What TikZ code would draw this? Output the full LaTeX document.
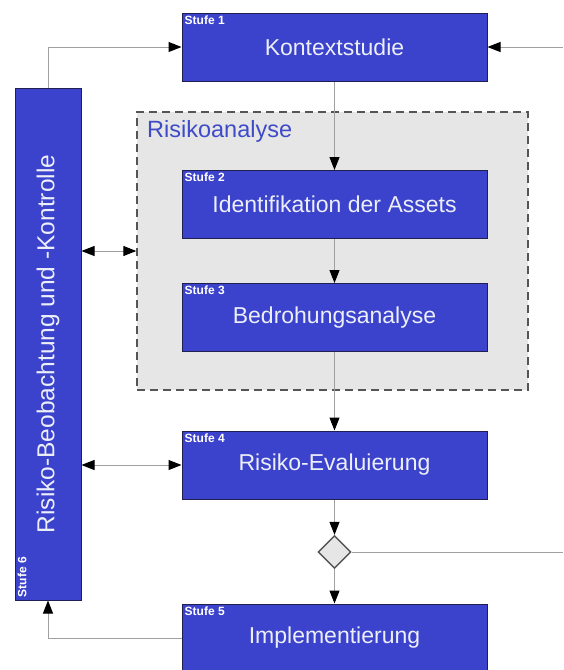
\documentclass[tikz,border=0pt]{standalone}
\usepackage{fontspec}
\setmainfont{Liberation Sans}
\usetikzlibrary{arrows.meta,shapes.geometric,calc}
\definecolor{boxblue}{RGB}{59,66,204}
\definecolor{boxborder}{RGB}{32,32,80}
\definecolor{boxtext}{RGB}{236,238,248}
\definecolor{regionfill}{RGB}{230,230,230}
\definecolor{regionline}{RGB}{85,85,85}
\definecolor{linegray}{RGB}{160,160,160}
\definecolor{titleblue}{RGB}{62,74,200}
\begin{document}
\begin{tikzpicture}[x=1pt,y=-1pt,
  stage/.style={draw=boxborder, line width=1pt, fill=boxblue, text=boxtext,
    minimum width=305pt, minimum height=68pt, inner sep=0pt,
    font=\fontsize{23}{26}\selectfont},
  sidebox/.style={draw=boxborder, line width=1pt, fill=boxblue,
    minimum width=66pt, minimum height=512pt, inner sep=0pt},
  sidetext/.style={text=boxtext, rotate=90, inner sep=0pt,
    font=\fontsize{24.5}{28}\selectfont},
  stufe/.style={text=white, inner sep=0pt,
    font=\bfseries\fontsize{12}{13}\selectfont},
  region/.style={draw=regionline, fill=regionfill, line width=1.4pt,
    dash pattern=on 8pt off 5pt, minimum width=391pt, minimum height=278pt, inner sep=0pt},
  regiontitle/.style={text=titleblue, inner sep=0pt, font=\fontsize{23.5}{26}\selectfont},
  dia/.style={diamond, aspect=1, draw=regionline, fill=regionfill, line width=1.4pt,
    minimum width=33pt, minimum height=33pt, inner sep=0pt},
  conn/.style={draw=linegray, line width=1pt},
  tip/.style={},
  arr/.style={conn, -{Triangle[length=13pt,width=10pt,color=black]}},
  darr/.style={conn, {Triangle[length=13pt,width=10pt,color=black]}-{Triangle[length=13pt,width=10pt,color=black]}}
]
\clip (0,0) rectangle (563,670);
\fill[white] (0,0) rectangle (563,670);

% region
\node[region] (ra) at (332.5,251) {};
\node[regiontitle, anchor=west] (ratitle) at (147,131) {Risikoanalyse};

% stages
\node[stage] (s1) at (334.5,47) {Kontextstudie};
\node[stage] (s2) at (334.5,204.5) {Identifikation der Assets};
\node[stage] (s3) at (334.5,317.5) {Bedrohungsanalyse};
\node[stage] (s4) at (334.5,465) {Risiko-Evaluierung};
\node[stage] (s5) at (334.5,638) {Implementierung};
\node[sidebox] (s6) at (48,344) {};
\node[sidetext] (s6t) at (s6.center) {Risiko-Beobachtung und -Kontrolle};
\node[dia] (d) at (334.5,552) {};

% stage labels
\node[stufe, anchor=north west] (l1) at ($(s1.north west)+(3,3)$) {Stufe 1};
\node[stufe, anchor=north west] (l2) at ($(s2.north west)+(3,3)$) {Stufe 2};
\node[stufe, anchor=north west] (l3) at ($(s3.north west)+(3,3)$) {Stufe 3};
\node[stufe, anchor=north west] (l4) at ($(s4.north west)+(3,3)$) {Stufe 4};
\node[stufe, anchor=north west] (l5) at ($(s5.north west)+(3,3)$) {Stufe 5};
\node[stufe, rotate=90, anchor=north west] (l6) at ($(s6.south west)+(3,-3)$) {Stufe 6};

% free ends
\coordinate (inR) at (563,47);
\coordinate (outR) at (563,552);

% connectors
\draw[arr] (s1.south) -- (s2.north);
\draw[arr] (s2.south) -- (s3.north);
\draw[arr] (s3.south) -- (s4.north);
\draw[arr] (s4.south) -- (d.north);
\draw[arr] (d.south) -- (s5.north);
\draw[conn] (d.east) -- (outR);
\draw[arr] (inR) -- (s1.east);
\draw[arr] (s6.north) |- (s1.west);
\draw[arr] (s5.west) -| (s6.south);
\draw[darr] (s6.east |- ra.west) -- (ra.west);
\draw[darr] (s6.east |- s4.west) -- (s4.west);
\end{tikzpicture}
\end{document}
